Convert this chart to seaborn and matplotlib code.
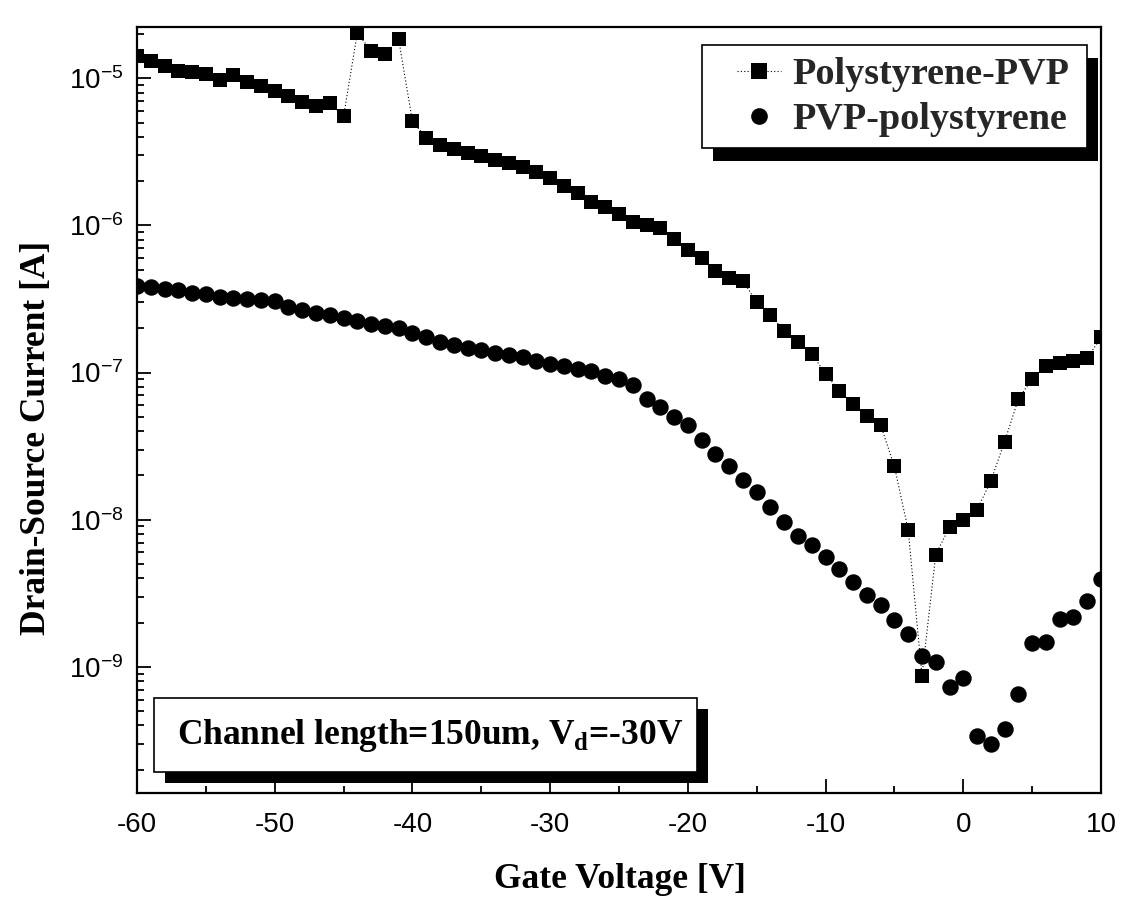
import numpy as np
import pandas as pd
import matplotlib
matplotlib.use("Agg")
import matplotlib.pyplot as plt
import seaborn as sns
from matplotlib.ticker import LogLocator, MultipleLocator, NullFormatter, FixedLocator
from matplotlib.patches import Rectangle
from matplotlib.lines import Line2D
from matplotlib.font_manager import FontProperties

# ---------------- data ----------------
gate_voltage = list(range(-60, 11))  # V, 1 V sweep step

polystyrene_pvp = [
    1.42e-5, 1.30e-5, 1.22e-5, 1.12e-5, 1.10e-5, 1.07e-5, 9.8e-6, 1.05e-5,
    9.5e-6, 8.8e-6, 8.2e-6, 7.6e-6, 6.9e-6, 6.5e-6, 6.8e-6, 5.5e-6,      # -60 .. -45
    2.04e-5, 1.53e-5, 1.46e-5, 1.84e-5,                                   # -44 .. -41
    5.1e-6, 3.95e-6, 3.5e-6, 3.3e-6, 3.1e-6, 2.95e-6, 2.8e-6, 2.65e-6,
    2.5e-6, 2.3e-6, 2.1e-6, 1.85e-6, 1.65e-6, 1.45e-6, 1.33e-6, 1.2e-6,
    1.06e-6, 1.0e-6, 9.6e-7, 8.1e-7, 6.8e-7, 6.0e-7, 4.9e-7, 4.4e-7,
    4.2e-7,                                                               # -40 .. -16
    3.0e-7, 2.45e-7, 1.93e-7, 1.61e-7, 1.34e-7, 9.8e-8, 7.5e-8, 6.1e-8,
    5.1e-8, 4.4e-8, 2.3e-8, 8.5e-9, 8.7e-10, 5.8e-9, 8.9e-9,              # -15 .. -1
    9.9e-9, 1.17e-8, 1.83e-8, 3.4e-8, 6.6e-8, 9.1e-8, 1.1e-7, 1.17e-7,
    1.2e-7, 1.25e-7, 1.74e-7,                                             # 0 .. 10
]

pvp_polystyrene = [
    3.9e-7, 3.8e-7, 3.72e-7, 3.62e-7, 3.5e-7, 3.4e-7, 3.25e-7, 3.2e-7,
    3.14e-7, 3.1e-7, 3.05e-7, 2.8e-7, 2.65e-7, 2.55e-7, 2.45e-7, 2.35e-7,
    2.25e-7, 2.15e-7, 2.08e-7, 2.0e-7, 1.85e-7, 1.74e-7, 1.62e-7, 1.55e-7,
    1.48e-7, 1.42e-7, 1.36e-7, 1.31e-7, 1.27e-7, 1.2e-7, 1.14e-7, 1.1e-7,
    1.06e-7, 1.02e-7, 9.5e-8, 9.0e-8, 8.2e-8, 6.6e-8, 5.8e-8, 5.0e-8,
    4.4e-8, 3.5e-8, 2.8e-8, 2.3e-8, 1.85e-8, 1.54e-8, 1.22e-8, 9.6e-9,
    7.8e-9, 6.7e-9, 5.6e-9, 4.6e-9, 3.8e-9, 3.1e-9, 2.65e-9, 2.07e-9,
    1.68e-9, 1.19e-9, 1.08e-9, 7.3e-10, 8.4e-10, 3.4e-10, 3.0e-10, 3.8e-10,
    6.5e-10, 1.45e-9, 1.47e-9, 2.1e-9, 2.18e-9, 2.8e-9, 3.97e-9,
]

x_ticks = [-60, -50, -40, -30, -20, -10, 0, 10]
y_ticks = [1e-9, 1e-8, 1e-7, 1e-6, 1e-5]
series_labels = ["Polystyrene-PVP", "PVP-polystyrene"]
x_label = "Gate Voltage [V]"
y_label = "Drain-Source Current [A]"
note_text = r"Channel length=150um, V$_\mathdefault{d}$=-30V"

# ---------------- style ----------------
sns.set_theme(style="ticks")
plt.rcParams["font.family"] = ["Liberation Sans", "DejaVu Sans"]
plt.rcParams["axes.unicode_minus"] = False
plt.rcParams["axes.linewidth"] = 1.5
plt.rcParams["axes.edgecolor"] = "black"

serif_fam = ["Liberation Serif", "DejaVu Serif"]
label_font = FontProperties(family=serif_fam, weight="bold", size=25.5)
legend_font = FontProperties(family=serif_fam, weight="bold", size=27.5)

W_PX, H_PX = 1121, 900
fig = plt.figure(figsize=(W_PX / 100, H_PX / 100), dpi=100)
ax_l, ax_r, ax_t, ax_b = 137, 1101, 27, 793
ax = fig.add_axes([ax_l / W_PX, 1 - ax_b / H_PX, (ax_r - ax_l) / W_PX, (ax_b - ax_t) / H_PX])
ax.set_facecolor("white")


def px_to_axes(xp, yp):
    return (xp - ax_l) / (ax_r - ax_l), (ax_b - yp) / (ax_b - ax_t)


df = pd.DataFrame({
    "vg": gate_voltage,
    "ps_pvp": polystyrene_pvp,
    "pvp_ps": pvp_polystyrene,
})

sns.lineplot(data=df, x="vg", y="ps_pvp", ax=ax, color="black",
             linestyle=(0, (1, 2)), linewidth=0.8, marker="s", markersize=10.5,
             markeredgewidth=0, markerfacecolor="black", estimator=None,
             sort=False, zorder=3)
sns.scatterplot(data=df, x="vg", y="pvp_ps", ax=ax, color="black",
                marker="o", s=140, linewidth=0, edgecolor="black", zorder=3)

ax.set_yscale("log")
ax.set_xlim(-60, 10)
ax.set_ylim(1.39e-10, 2.23e-5)

ax.xaxis.set_major_locator(FixedLocator(x_ticks))
ax.xaxis.set_minor_locator(MultipleLocator(5))
ax.yaxis.set_major_locator(FixedLocator(y_ticks))
ax.yaxis.set_minor_locator(LogLocator(base=10, subs=np.arange(2, 10), numticks=20))
ax.yaxis.set_minor_formatter(NullFormatter())
ax.set_yticks(y_ticks, [r"$\mathdefault{10^{%d}}$" % int(round(np.log10(v))) for v in y_ticks])
ax.set_xticks(x_ticks, [str(v) for v in x_ticks])

ax.tick_params(axis="both", which="both", direction="in", top=False, right=False,
               colors="black", width=1.3)
ax.tick_params(axis="both", which="major", length=10, labelsize=20)
ax.tick_params(axis="x", which="major", pad=13.5)
ax.tick_params(axis="y", which="major", pad=10)
ax.tick_params(axis="both", which="minor", length=5)
for lab in ax.get_xticklabels() + ax.get_yticklabels():
    lab.set_fontfamily(["Liberation Sans", "DejaVu Sans"])

for s in ax.spines.values():
    s.set_visible(True)
    s.set_linewidth(1.6)
    s.set_color("black")

ax.set_xlabel(x_label, fontproperties=label_font, va="center", color="black")
ax.xaxis.set_label_coords(0.501, (ax_b - 880) / (ax_b - ax_t))
ax.set_ylabel(y_label, fontproperties=label_font, va="center", color="black")
ax.yaxis.set_label_coords((37 - ax_l) / (ax_r - ax_l), (ax_b - 438) / (ax_b - ax_t))

# ---------------- legend (frame + drop shadow drawn as boxes) ----------------
h1 = Line2D([], [], color="black", linestyle=(0, (1, 2)), linewidth=0.8,
            marker="s", markersize=11, markeredgewidth=0)
h2 = Line2D([], [], color="black", linestyle="none", marker="o",
            markersize=12, markeredgewidth=0)
leg = ax.legend([h1, h2], series_labels, loc="upper right",
                bbox_to_anchor=px_to_axes(1069, 57),
                borderaxespad=0, borderpad=0, frameon=False, prop=legend_font,
                handlelength=1.15, handletextpad=0.28, labelspacing=0.26)
leg.set_zorder(6)

lg_x0, lg_y1 = px_to_axes(702, 45)
lg_x1, lg_y0 = px_to_axes(1087, 148)
sx, sy = 11 / (ax_r - ax_l), 13 / (ax_b - ax_t)
ax.add_patch(Rectangle((lg_x0 + sx, lg_y0 - sy), lg_x1 - lg_x0, lg_y1 - lg_y0,
                       transform=ax.transAxes, facecolor="black", edgecolor="none",
                       zorder=5.4, clip_on=False))
ax.add_patch(Rectangle((lg_x0, lg_y0), lg_x1 - lg_x0, lg_y1 - lg_y0,
                       transform=ax.transAxes, facecolor="white", edgecolor="black",
                       linewidth=1.2, zorder=5.5, clip_on=False))

# ---------------- annotation box with drop shadow ----------------
bx0, by1 = px_to_axes(154, 698)
bx1, by0 = px_to_axes(697, 772)
sx, sy = 11 / (ax_r - ax_l), 11 / (ax_b - ax_t)
ax.add_patch(Rectangle((bx0 + sx, by0 - sy), bx1 - bx0, by1 - by0, transform=ax.transAxes,
                       facecolor="black", edgecolor="none", zorder=4.8, clip_on=False))
ax.add_patch(Rectangle((bx0, by0), bx1 - bx0, by1 - by0, transform=ax.transAxes,
                       facecolor="white", edgecolor="black", linewidth=1.2, zorder=4.9,
                       clip_on=False))
tx, ty = px_to_axes(177, 735)
ax.text(tx, ty, note_text, transform=ax.transAxes, fontproperties=label_font,
        ha="left", va="center", color="black", zorder=5)

fig.savefig("out.png", dpi=100, facecolor="white")
